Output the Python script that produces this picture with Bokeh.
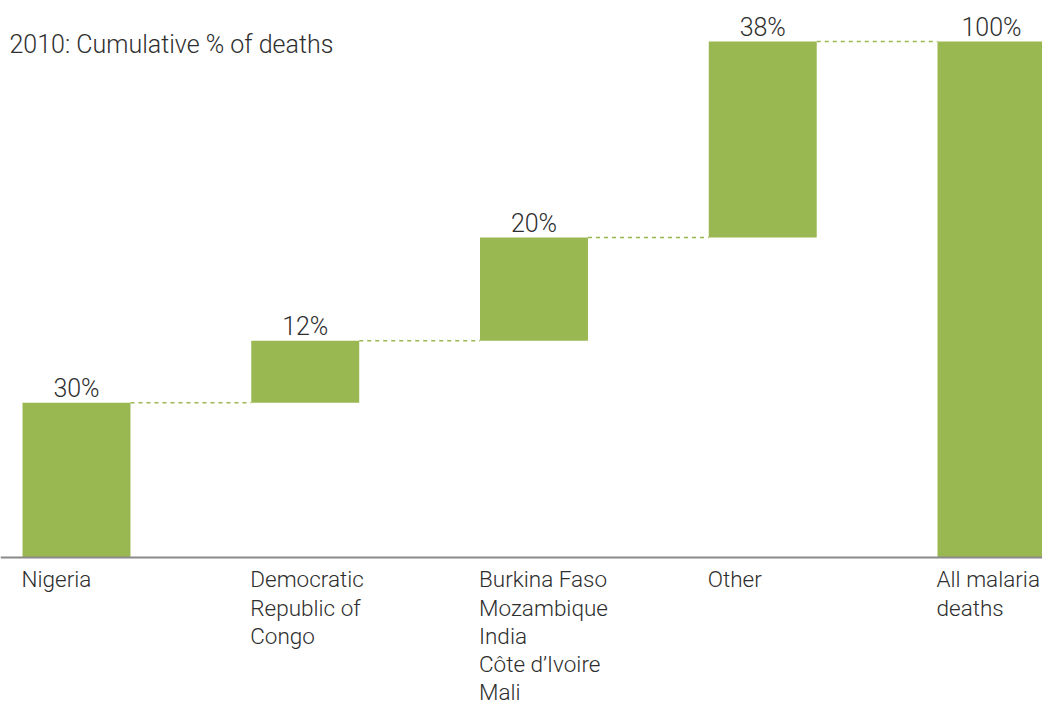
from bokeh.plotting import figure
from bokeh.models import Range1d, Span, Label, ColumnDataSource
from bokeh.core.properties import value
from bokeh.embed import file_html
from bokeh.resources import INLINE

categories = ["Nigeria", "Democratic\nRepublic of\nCongo",
              "Burkina Faso\nMozambique\nIndia\nCôte d\u2019Ivoire\nMali",
              "Other", "All malaria\ndeaths"]
values = [30, 12, 20, 38, 100]
value_labels = ["30%", "12%", "20%", "38%", "100%"]
is_total = [False, False, False, False, True]
title_text = "2010: Cumulative % of deaths"

GREEN = "#9ab852"
TEXT = "#2e2e2e"
FONT = "Roboto Light, Roboto"
BAR_W = 0.472

xs = list(range(len(categories)))
bottoms, tops = [], []
run = 0
for v, t in zip(values, is_total):
    if t:
        bottoms.append(0)
        tops.append(v)
    else:
        bottoms.append(run)
        run += v
        tops.append(run)

p = figure(width=1042, height=706, output_backend="svg", toolbar_location=None,
           x_axis_location=None, y_axis_location=None, min_border=0,
           x_range=Range1d(-0.3322, 4.223), y_range=Range1d(-28.88, 107.95),
           outline_line_color=None, background_fill_color="white")
p.xgrid.visible = False
p.ygrid.visible = False

src = ColumnDataSource(dict(x=xs, bottom=bottoms, top=tops, lab=value_labels,
                            cat=categories, left=[x - BAR_W / 2 for x in xs]))

p.vbar(x="x", bottom="bottom", top="top", width=BAR_W, source=src,
       fill_color=GREEN, line_color=None)

# dashed connectors
cx0 = [xs[i] + BAR_W / 2 for i in range(len(xs) - 1)]
cx1 = [xs[i + 1] - BAR_W / 2 for i in range(len(xs) - 1)]
cy = [tops[i] for i in range(len(xs) - 1)]
p.segment(x0=cx0, x1=cx1, y0=cy, y1=cy, line_color=GREEN, line_width=1.5,
          line_dash="4 4")

# baseline
p.add_layout(Span(location=0, dimension="width", line_color="#8a8a8a", line_width=2))

# value labels
p.text(x="x", y="top", text="lab", source=src, text_align="center",
       text_baseline="bottom", y_offset=0, text_font=value(FONT),
       text_font_size="25px", text_color=TEXT)

# category labels
p.text(x="left", y=0, text="cat", source=src, text_align="left",
       text_baseline="top", y_offset=9, x_offset=-1, text_font=value(FONT),
       text_font_size="22.5px", text_color=TEXT, text_line_height=1.08)

p.add_layout(Label(x=9, y=662, x_units="screen", y_units="screen", text=title_text,
                   text_font=FONT, text_font_size="25px", text_color=TEXT,
                   text_baseline="alphabetic"))

open("out.html", "w").write(file_html(p, INLINE))
